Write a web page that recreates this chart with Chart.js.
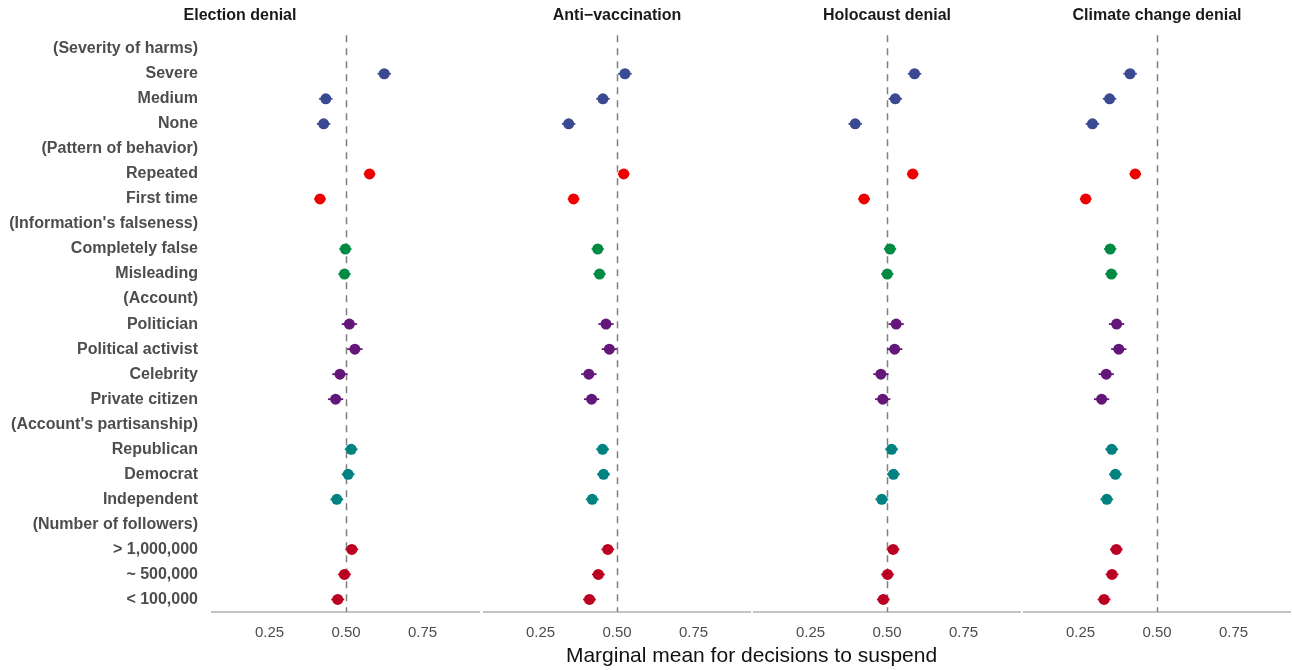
<!DOCTYPE html>
<html>
<head>
<meta charset="utf-8">
<script src="https://cdn.jsdelivr.net/npm/chart.js@4.4.1/dist/chart.umd.min.js"></script>
<style>
  body { margin: 0; background: #fff; width: 1292px; height: 670px; overflow: hidden; position: relative; }
  .panel { position: absolute; top: 0; }
  #xTitle {
    position: absolute; left: 212px; width: 1079px; top: 643px;
    text-align: center; font-family: 'Liberation Sans', Arial, sans-serif;
    font-size: 21px; color: #111;
  }
</style>
</head>
<body>
<div class="panel" style="left:0px"><canvas id="panel0" width="480" height="654"></canvas></div>
<div class="panel" style="left:483px"><canvas id="panel1" width="268" height="654"></canvas></div>
<div class="panel" style="left:753px"><canvas id="panel2" width="268" height="654"></canvas></div>
<div class="panel" style="left:1023px"><canvas id="panel3" width="268" height="654"></canvas></div>
<div id="xTitle">Marginal mean for decisions to suspend</div>
<script>
const rowLabels = [
  '(Severity of harms)', 'Severe', 'Medium', 'None',
  '(Pattern of behavior)', 'Repeated', 'First time',
  "(Information's falseness)", 'Completely false', 'Misleading',
  '(Account)', 'Politician', 'Political activist', 'Celebrity', 'Private citizen',
  "(Account's partisanship)", 'Republican', 'Democrat', 'Independent',
  '(Number of followers)', '> 1,000,000', '~ 500,000', '< 100,000'
];

// which attribute each row belongs to (null = header row)
const rowGroup = [null, 0, 0, 0, null, 1, 1, null, 2, 2, null, 3, 3, 3, 3, null, 4, 4, 4, null, 5, 5, 5];
const groupColors = ['#3B4992', '#EE0000', '#008B45', '#631879', '#008280', '#BB0021'];

const panelTitles = ['Election denial', 'Anti\u2212vaccination', 'Holocaust denial', 'Climate change denial'];

const electionDenial = [null, 0.625, 0.434, 0.427, null, 0.577, 0.415, null, 0.498, 0.495,
  null, 0.511, 0.529, 0.480, 0.466, null, 0.517, 0.507, 0.470, null, 0.519, 0.495, 0.473];
const antiVaccination = [null, 0.526, 0.454, 0.342, null, 0.522, 0.358, null, 0.437, 0.443,
  null, 0.464, 0.475, 0.408, 0.417, null, 0.453, 0.456, 0.419, null, 0.470, 0.439, 0.410];
const holocaustDenial = [null, 0.590, 0.527, 0.396, null, 0.584, 0.425, null, 0.510, 0.501,
  null, 0.530, 0.525, 0.480, 0.486, null, 0.515, 0.521, 0.483, null, 0.520, 0.502, 0.488];
const climateDenial = [null, 0.412, 0.345, 0.289, null, 0.429, 0.267, null, 0.347, 0.351,
  null, 0.368, 0.375, 0.334, 0.319, null, 0.352, 0.364, 0.336, null, 0.367, 0.353, 0.327];

// half width of the confidence intervals
const ciHalf = [null, 0.022, 0.022, 0.022, null, 0.019, 0.019, null, 0.020, 0.020,
  null, 0.025, 0.025, 0.025, 0.025, null, 0.021, 0.021, 0.021, null, 0.021, 0.021, 0.021];

const xTicks = [0.25, 0.5, 0.75];
const X_MIN = 0.062, X_MAX = 0.938;

const FONT = "'Liberation Sans', Arial, Helvetica, sans-serif";
const pointColors = rowGroup.map(g => g === null ? 'rgba(0,0,0,0)' : groupColors[g]);

const refLinePlugin = {
  id: 'refLine',
  beforeDatasetsDraw(chart) {
    const { ctx, chartArea } = chart;
    const x = chart.scales.x, y = chart.scales.y;
    ctx.save();
    // dashed line at 0.5
    const px = Math.round(x.getPixelForValue(0.5)) + 0.5;
    ctx.strokeStyle = '#808080';
    ctx.lineWidth = 1.5;
    ctx.setLineDash([7, 6]);
    ctx.beginPath();
    ctx.moveTo(px, chartArea.top - 1);
    ctx.lineTo(px, chartArea.bottom);
    ctx.stroke();
    ctx.setLineDash([]);
    // confidence intervals
    const vals = chart.data.datasets[0].data;
    ctx.lineWidth = 1.8;
    vals.forEach((v, i) => {
      if (v === null) return;
      const py = y.getPixelForValue(i);
      ctx.strokeStyle = pointColors[i];
      ctx.beginPath();
      ctx.moveTo(x.getPixelForValue(v - ciHalf[i]), py);
      ctx.lineTo(x.getPixelForValue(v + ciHalf[i]), py);
      ctx.stroke();
    });
    ctx.restore();
  }
};

function drawPanel(id, values, title, showLabels) {
  const ctx = document.getElementById(id).getContext('2d');
  return new Chart(ctx, {
    type: 'line',
    data: {
      labels: rowLabels,
      datasets: [{
        data: values,
        showLine: false,
        pointRadius: 5.5,
        pointHoverRadius: 5.5,
        pointBorderWidth: 0,
        pointBackgroundColor: pointColors,
        pointBorderColor: pointColors,
        clip: false
      }]
    },
    options: {
      indexAxis: 'y',
      responsive: false,
      animation: false,
      devicePixelRatio: 1,
      layout: { padding: 0, autoPadding: false },
      scales: {
        x: {
          type: 'linear',
          min: X_MIN,
          max: X_MAX,
          afterBuildTicks: scale => { scale.ticks = xTicks.map(v => ({ value: v })); },
          grid: { display: false, drawTicks: false },
          border: { display: true, color: '#c4c4c4', width: 2 },
          ticks: {
            color: '#4d4d4d',
            padding: 12,
            font: { family: FONT, size: 15 },
            callback: v => v.toFixed(2)
          }
        },
        y: {
          type: 'category',
          offset: true,
          display: showLabels,
          afterFit: scale => { if (showLabels) scale.width = 212; },
          grid: { display: false, drawTicks: false },
          border: { display: false },
          ticks: {
            color: '#4d4d4d',
            padding: 14,
            autoSkip: false,
            font: { family: FONT, size: 16, weight: 'bold' }
          }
        }
      },
      plugins: {
        legend: { display: false },
        tooltip: { enabled: false },
        title: {
          display: true,
          text: title,
          color: '#1a1a1a',
          font: { family: FONT, size: 16, weight: 'bold' },
          padding: { top: 6, bottom: 11 }
        }
      }
    },
    plugins: [refLinePlugin]
  });
}

drawPanel('panel0', electionDenial, panelTitles[0], true);
drawPanel('panel1', antiVaccination, panelTitles[1], false);
drawPanel('panel2', holocaustDenial, panelTitles[2], false);
drawPanel('panel3', climateDenial, panelTitles[3], false);
</script>
</body>
</html>
